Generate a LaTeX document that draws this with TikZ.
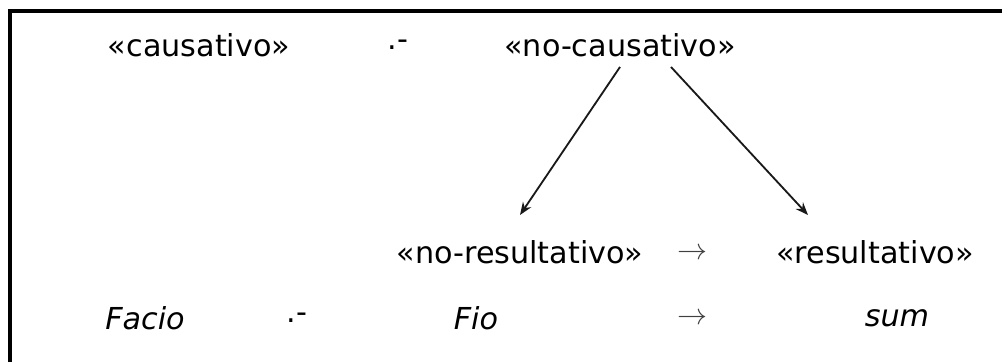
\documentclass[tikz,border=0pt]{standalone}
\usepackage{fontspec}
\setmainfont{DejaVu Sans}
\usepackage{tikz}
\usetikzlibrary{arrows.meta,positioning,calc}

\begin{document}
\begin{tikzpicture}[
  term/.style={inner sep=0pt,font=\fontsize{21.5}{24}\selectfont,anchor=center},
  latin/.style={term,font=\fontsize{21.5}{24}\selectfont\itshape},
  sep/.style={inner sep=0pt,font=\fontsize{21.5}{24}\selectfont},
  tarrow/.style={inner sep=0pt,color=black!75},
  arrow/.style={-{Stealth[length=9pt,width=7pt]},line width=1.3pt,color=black!90}
]
\useasboundingbox (0,0) rectangle (25.05,9.05);

% Marco
\draw[line width=2.2pt] (0.25,0) -- (0.25,8.775) -- (25.05,8.775);

% Fila superior
\node[term] (ca) at (4.975,7.925) {«causativo»};
\node[sep]  (s1) at (9.95,7.925)  {.-};
\node[term] (nc) at (15.5,7.925)  {«no-causativo»};

% Fila media
\node[term]   (nr) at (13.0,2.75)   {«no-resultativo»};
\node[tarrow] (a1) at (17.3,2.7)    {\resizebox{0.75cm}{!}{$\rightarrow$}};
\node[term]   (rs) at (21.875,2.75) {«resultativo»};

% Fila inferior
\node[latin]  (fa) at (3.625,1.1)  {Facio};
\node[sep]    (s2) at (7.425,1.1)  {.-};
\node[latin]  (fi) at (11.9,1.1)   {Fio};
\node[tarrow] (a2) at (17.3,1.075) {\resizebox{0.75cm}{!}{$\rightarrow$}};
\node[latin]  (su) at (22.425,1.1) {sum};

% Flechas
\coordinate (nr-top) at (13.0,3.675);
\coordinate (rs-top) at (20.2,3.675);
\draw[arrow] ($(nc.south)+(0,-0.25)$) -- (nr-top);
\draw[arrow] ($(nc.south)+(1.275,-0.25)$) -- (rs-top);

\end{tikzpicture}
\end{document}
